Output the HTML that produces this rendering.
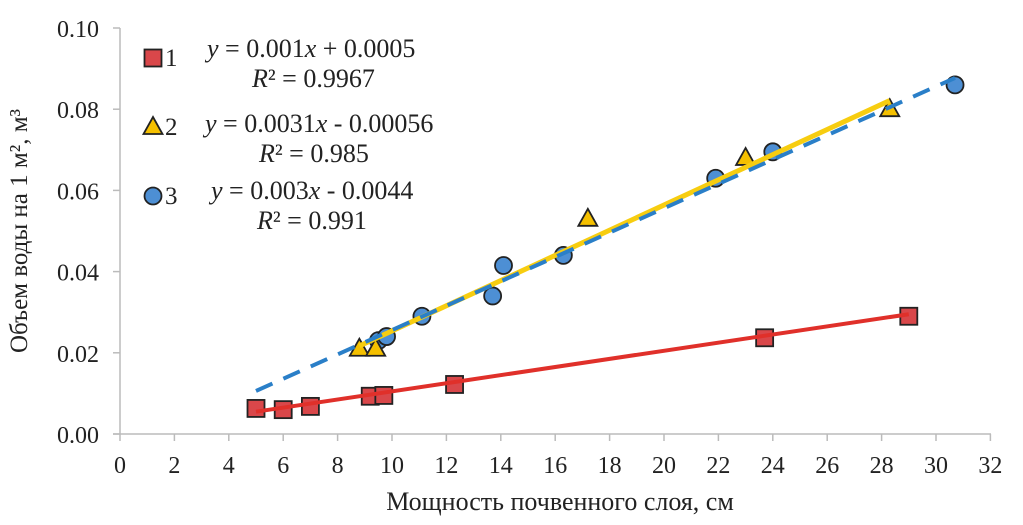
<!DOCTYPE html>
<html><head><meta charset="utf-8"><style>
body{margin:0;background:#fff;width:1023px;height:520px;overflow:hidden}
svg text{font-family:"Liberation Serif",serif;fill:#222}
</style></head><body>
<svg id="chart" width="1023" height="520"></svg>
<script>
const xTicks=[0,2,4,6,8,10,12,14,16,18,20,22,24,26,28,30,32];
const yTicks=[0,0.02,0.04,0.06,0.08,0.10];
const yLabels=["0.00","0.02","0.04","0.06","0.08","0.10"];
const s1x=[5.0,6.0,7.0,9.2,9.7,12.3,23.7,29.0];
const s1y=[0.0063,0.006,0.0068,0.0093,0.0095,0.0122,0.0237,0.029];
const s2x=[8.8,9.4,17.2,23.0,28.3];
const s2y=[0.021,0.021,0.053,0.068,0.080];
const s3x=[9.5,9.8,11.1,13.7,14.1,16.3,21.9,24.0,30.7];
const s3y=[0.023,0.024,0.029,0.034,0.0415,0.044,0.063,0.0695,0.086];
const fit1=[0.001,0.0005,5.0,29.0];
const fit2=[0.0031,-0.0056,8.8,28.3];
const fit3=[0.003,-0.0044,5.0,30.7];
const X=v=>120+v*27.2, Y=v=>434-v*4060;
const svg=document.getElementById('chart');
const NS='http://www.w3.org/2000/svg';
function mk(t,a,p){const e=document.createElementNS(NS,t);for(const k in a)e.setAttribute(k,a[k]);(p||svg).appendChild(e);return e;}
let e;
e=mk('line',{x1:120,y1:28,x2:120,y2:434,stroke:'#bbb','stroke-width':1.5});


e=mk('line',{x1:113,y1:434,x2:991,y2:434,stroke:'#bbb','stroke-width':1.5});


xTicks.forEach(t=>{
 e=mk('line',{x1:X(t),y1:434,x2:X(t),y2:441,stroke:'#bbb','stroke-width':1.5});
 
 
 e=mk('text',{x:X(t),y:473,'font-size':24,'text-anchor':'middle'});e.textContent=t;
 
 
});
yTicks.forEach((t,i)=>{
 e=mk('line',{x1:113,y1:Y(t),x2:120,y2:Y(t),stroke:'#bbb','stroke-width':1.5});
 
 
 e=mk('text',{x:99,y:Y(t)+9,'font-size':24,'text-anchor':'end'});e.textContent=yLabels[i];
 
 
});
e=mk('text',{x:560,y:510,'font-size':26,'text-anchor':'middle'});e.textContent='Мощность почвенного слоя, см';


e=mk('text',{x:0,y:0,'font-size':25,'text-anchor':'middle',transform:'translate(27,231) rotate(-90)'});e.textContent='Объем воды на 1 м², м³';


function fit(f,col,dash,w,name){
 const a=mk('line',{x1:X(f[2]),y1:Y(f[0]*f[2]+f[1]),x2:X(f[3]),y2:Y(f[0]*f[3]+f[1]),stroke:col,'stroke-width':w,'stroke-dasharray':dash});
 
 
}
function sq(x,y){return mk('rect',{x:x-8.5,y:y-8.5,width:17,height:17,fill:'#d9474a',stroke:'#222','stroke-width':1.8});}
function tri(x,y){return mk('polygon',{points:`${x},${y-10} ${x+9.5},${y+7} ${x-9.5},${y+7}`,fill:'#f5c000',stroke:'#222','stroke-width':1.8});}
function circ(x,y){return mk('circle',{cx:x,cy:y,r:8.5,fill:'#4d8fd4',stroke:'#222','stroke-width':1.8});}
s1x.forEach((v,i)=>{e=sq(X(v),Y(s1y[i]));
 
 });
fit(fit1,'#e0302a','none',4,'trendline-1');
s3x.forEach((v,i)=>{e=circ(X(v),Y(s3y[i]));
 
 });
s2x.forEach((v,i)=>{e=tri(X(v),Y(s2y[i]));
 
 });
fit(fit2,'#f7cd10','none',5,'trendline-2');
fit(fit3,'#2a7fc8','18 12',4,'trendline-3');
e=sq(153,58);


e=tri(153,127);


e=circ(153,196);


const leg=[[165,66,'1'],[165,135,'2'],[165,204,'3']];
leg.forEach(l=>{e=mk('text',{x:l[0],y:l[1],'font-size':25});e.textContent=l[2];
 
 });
function eq(x,y,html,name){const t=mk('text',{x:x,y:y,'font-size':26});t.innerHTML=html;
 
 }
eq(207,57,'<tspan font-style="italic">y</tspan> = 0.001<tspan font-style="italic">x</tspan> + 0.0005','equation-1');
eq(252,87,'<tspan font-style="italic">R</tspan>² = 0.9967','r2-1');
eq(205,132,'<tspan font-style="italic">y</tspan> = 0.0031<tspan font-style="italic">x</tspan> - 0.00056','equation-2');
eq(259,162,'<tspan font-style="italic">R</tspan>² = 0.985','r2-2');
eq(211,199,'<tspan font-style="italic">y</tspan> = 0.003<tspan font-style="italic">x</tspan> - 0.0044','equation-3');
eq(257,229,'<tspan font-style="italic">R</tspan>² = 0.991','r2-3');
</script>
</body></html>
